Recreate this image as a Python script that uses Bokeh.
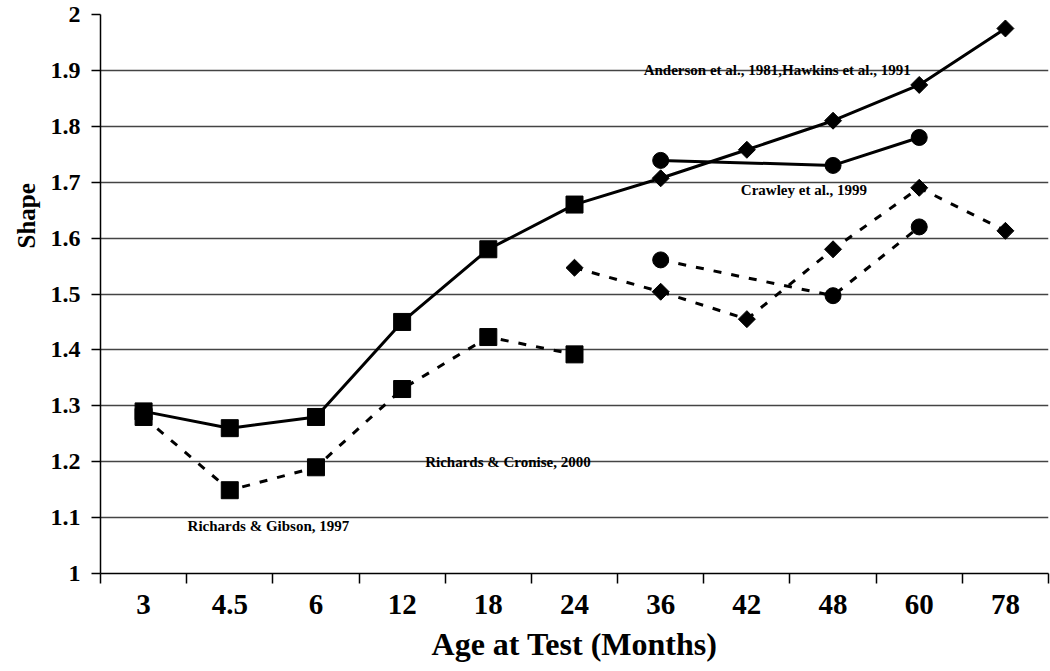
import math
from bokeh.plotting import figure
from bokeh.models import (Range1d, LinearAxis, FixedTicker, NumeralTickFormatter,
                          CustomJSTickFormatter, Title)
from bokeh.core.properties import value
from bokeh.embed import file_html
from bokeh.resources import INLINE

# ---- data ----
cats = ["3", "4.5", "6", "12", "18", "24", "36", "42", "48", "60", "78"]

# Richards & Cronise (solid, squares) continuing into Anderson / Hawkins (solid, diamonds)
solid_sq_x = ["3", "4.5", "6", "12", "18", "24"]
solid_sq_y = [1.29, 1.26, 1.28, 1.45, 1.58, 1.66]
solid_dia_x = ["36", "42", "48", "60", "78"]
solid_dia_y = [1.707, 1.758, 1.81, 1.874, 1.975]

# Richards & Gibson (dashed, squares)
dash_sq_x = ["3", "4.5", "6", "12", "18", "24"]
dash_sq_y = [1.28, 1.149, 1.19, 1.33, 1.423, 1.392]

# dashed diamonds
dash_dia_x = ["24", "36", "42", "48", "60", "78"]
dash_dia_y = [1.547, 1.504, 1.455, 1.58, 1.69, 1.613]

# Crawley (solid circles / dashed circles)
solid_circ_x = ["36", "48", "60"]
solid_circ_y = [1.739, 1.73, 1.78]
dash_circ_x = ["36", "48", "60"]
dash_circ_y = [1.561, 1.497, 1.62]

y_ticks = [1.0, 1.1, 1.2, 1.3, 1.4, 1.5, 1.6, 1.7, 1.8, 1.9, 2.0]

labels = ["Anderson et al., 1981,Hawkins et al., 1991", "Crawley et al., 1999",
          "Richards & Cronise, 2000", "Richards & Gibson, 1997"]

FONT = "Liberation Serif"


def pos(xs):
    # category -> centre of its slot on the axis
    return [cats.index(c) + 0.5 for c in xs]


p = figure(x_range=Range1d(0, len(cats)), y_range=Range1d(1, 2),
           width=1050, height=671, output_backend="svg", toolbar_location=None,
           x_axis_location=None,
           min_border_left=100, min_border_right=2, min_border_top=14, min_border_bottom=98)
p.outline_line_color = None
p.background_fill_color = "white"
p.border_fill_color = "white"
p.xgrid.visible = False

# y axis
p.yaxis.ticker = FixedTicker(ticks=y_ticks)
p.yaxis.formatter = NumeralTickFormatter(format="0.[0]")
p.yaxis.major_tick_out = 9
p.yaxis.major_tick_in = 0
p.yaxis.minor_tick_line_color = None
p.yaxis.axis_line_color = "black"
p.yaxis.axis_line_width = 1.5
p.yaxis.major_tick_line_width = 1.5
p.yaxis.major_label_text_font = FONT
p.yaxis.major_label_text_font_style = "bold"
p.yaxis.major_label_text_font_size = "24px"
p.yaxis.major_label_text_color = "black"
p.yaxis.major_label_standoff = 11

p.ygrid.grid_line_color = "#444444"
p.ygrid.grid_line_width = 1.3

# y axis title, placed high like the reference
p.add_layout(Title(text="Shape", align="left", offset=325, standoff=16,
                   text_font=FONT, text_font_style="bold", text_font_size="25px",
                   text_color="black"), "left")

# x axis: ticks at slot boundaries, then category labels at slot centres
tick_axis = LinearAxis(ticker=FixedTicker(ticks=list(range(len(cats) + 1))),
                       major_tick_out=10, major_tick_in=0, major_tick_line_width=1.5,
                       minor_tick_line_color=None,
                       major_label_text_font_size="1px", major_label_text_alpha=0,
                       major_label_standoff=0,
                       axis_line_color="black", axis_line_width=1.5)
p.add_layout(tick_axis, "below")

cat_axis = LinearAxis(ticker=FixedTicker(ticks=[i + 0.5 for i in range(len(cats))]),
                      formatter=CustomJSTickFormatter(args=dict(cats=cats),
                                                      code="return cats[Math.floor(tick)] || '';"),
                      axis_line_color=None, major_tick_line_color=None,
                      minor_tick_line_color=None,
                      major_label_text_font=FONT, major_label_text_font_style="bold",
                      major_label_text_font_size="29px", major_label_text_color="black",
                      major_label_standoff=5,
                      axis_label="Age at Test (Months)",
                      axis_label_text_font=FONT, axis_label_text_font_style="bold",
                      axis_label_text_font_size="32px", axis_label_text_color="black",
                      axis_label_standoff=9)
p.add_layout(cat_axis, "below")

# ---- series ----
DASH = "8 10"
LW = 3

p.line(pos(solid_sq_x + solid_dia_x), solid_sq_y + solid_dia_y, line_color="black", line_width=LW)
p.line(pos(dash_sq_x), dash_sq_y, line_color="black", line_width=LW, line_dash=DASH)
p.line(pos(dash_dia_x), dash_dia_y, line_color="black", line_width=LW, line_dash=DASH)
p.line(pos(solid_circ_x), solid_circ_y, line_color="black", line_width=LW)
p.line(pos(dash_circ_x), dash_circ_y, line_color="black", line_width=LW, line_dash=DASH)

p.scatter(pos(solid_sq_x), solid_sq_y, marker="square", size=17, color="black")
p.scatter(pos(dash_sq_x), dash_sq_y, marker="square", size=17, color="black")
p.scatter(pos(solid_dia_x), solid_dia_y, marker="square", size=12, angle=math.pi / 4, color="black")
p.scatter(pos(dash_dia_x), dash_dia_y, marker="square", size=12, angle=math.pi / 4, color="black")
p.scatter(pos(solid_circ_x), solid_circ_y, marker="circle", size=16, color="black")
p.scatter(pos(dash_circ_x), dash_circ_y, marker="circle", size=16, color="black")


# ---- annotations ----
def note(txt, cat, yv, dx, baseline):
    p.text(x=pos([cat]), y=[yv], text=[txt], text_font=value(FONT), text_font_style="bold",
           text_font_size="15px", text_color="black", text_align="left",
           text_baseline=baseline, x_offset=dx)


note(labels[0], "36", 1.9, -17, "alphabetic")
note(labels[1], "42", 1.7, -6, "top")
note(labels[2], "12", 1.2, 23, "alphabetic")
note(labels[3], "3", 1.1, 44, "top")

open("out.html", "w").write(file_html(p, INLINE))
